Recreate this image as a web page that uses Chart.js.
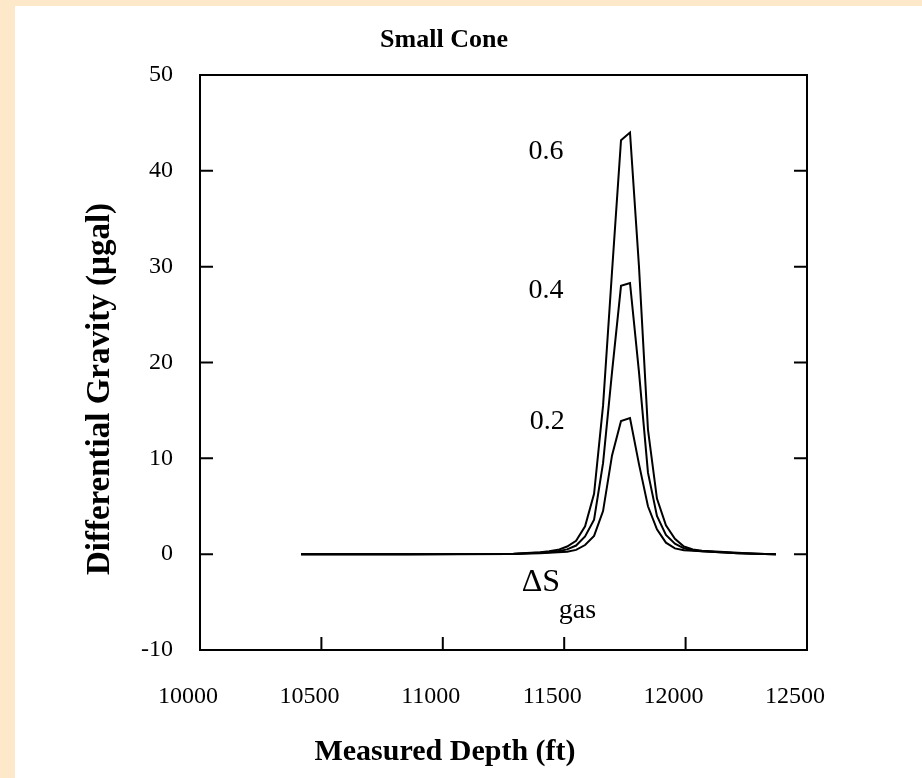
<!DOCTYPE html>
<html>
<head>
<meta charset="utf-8">
<script src="https://cdn.jsdelivr.net/npm/chart.js@4"></script>
<style>
  html, body { margin: 0; padding: 0; background: #fde8c9; }
  body { width: 922px; height: 778px; overflow: hidden; position: relative; }
  #wrap { position: absolute; left: 15px; top: 6px; width: 907px; height: 772px; background: #fff; }
</style>
</head>
<body>
<div id="wrap"><canvas id="chart" width="907" height="772"></canvas></div>
<script>
// measured depth (ft)
const depths = [10416, 10860, 11290, 11327, 11364, 11401, 11438, 11475, 11512, 11549, 11586, 11623,
  11660, 11697, 11734, 11771, 11808, 11845, 11882, 11919, 11956, 11993, 12030, 12067,
  12104, 12141, 12178, 12215, 12252, 12289, 12326, 12372];

// differential gravity (ugal) for each gas saturation change
const dg06 = [0, 0, 0.05, 0.1, 0.15, 0.2, 0.3, 0.45, 0.8, 1.4, 2.9, 6.3,
  15.5, 29.5, 43.2, 44.0, 30, 13, 5.8, 3.0, 1.6, 0.8, 0.5, 0.35,
  0.3, 0.25, 0.2, 0.15, 0.1, 0.05, 0.02, 0];
const dg04 = [0, 0, 0.03, 0.08, 0.12, 0.15, 0.2, 0.3, 0.5, 0.9, 1.85, 3.6,
  9.5, 19, 28.0, 28.3, 19, 8.5, 4.0, 2.0, 1.1, 0.6, 0.4, 0.3,
  0.25, 0.2, 0.15, 0.1, 0.08, 0.04, 0.02, 0];
const dg02 = [0, 0, 0.02, 0.05, 0.08, 0.1, 0.15, 0.2, 0.25, 0.45, 0.95, 1.9,
  4.5, 10.3, 13.9, 14.2, 9.4, 5.0, 2.6, 1.2, 0.6, 0.4, 0.35, 0.3,
  0.25, 0.2, 0.15, 0.1, 0.08, 0.04, 0.02, 0];

// curve labels: text, depth, value
const curveLabels = ["0.6", "0.4", "0.2"];
const labelDepth = [11425, 11425, 11430];
const labelValue = [42, 27.5, 13.8];

const serif = '"Liberation Serif", "Times New Roman", serif';

function pts(vals) {
  return depths.map((d, i) => ({ x: d, y: vals[i] }));
}

const framePlugin = {
  id: "frame",
  afterDatasetsDraw(chart) {
    const { ctx, chartArea: a, scales: { x, y } } = chart;
    ctx.save();
    ctx.strokeStyle = "#000";
    ctx.lineWidth = 2;
    ctx.strokeRect(a.left, a.top, a.right - a.left, a.bottom - a.top);
    ctx.beginPath();
    y.ticks.forEach(t => {
      const py = y.getPixelForValue(t.value);
      ctx.moveTo(a.left, py); ctx.lineTo(a.left + 13, py);
      ctx.moveTo(a.right, py); ctx.lineTo(a.right - 13, py);
    });
    x.ticks.forEach(t => {
      const px = x.getPixelForValue(t.value);
      ctx.moveTo(px, a.bottom); ctx.lineTo(px, a.bottom - 13);
    });
    ctx.stroke();

    ctx.fillStyle = "#000";
    ctx.textAlign = "center";
    ctx.textBaseline = "middle";

    // titles
    ctx.font = "bold 26px " + serif;
    ctx.fillText("Small Cone", 429, 34);
    ctx.font = "bold 30px " + serif;
    ctx.fillText("Measured Depth (ft)", 430, 746);
    ctx.save();
    ctx.translate(85, 383);
    ctx.rotate(-Math.PI / 2);
    ctx.font = "bold 33px " + serif;
    ctx.fillText("Differential Gravity (\u00b5gal)", 0, 0);
    ctx.restore();

    // curve labels
    ctx.font = "28px " + serif;
    curveLabels.forEach((txt, i) => {
      ctx.fillText(txt, x.getPixelForValue(labelDepth[i]), y.getPixelForValue(labelValue[i]));
    });

    // delta S gas
    const sx = x.getPixelForValue(11325);
    const sy = y.getPixelForValue(-3.0);
    ctx.textAlign = "left";
    ctx.font = "32px " + serif;
    ctx.fillText("\u0394S", sx, sy);
    ctx.font = "28px " + serif;
    ctx.fillText("gas", sx + 37, sy + 28);
    ctx.restore();
  }
};

new Chart(document.getElementById("chart"), {
  type: "line",
  data: {
    datasets: [
      { label: "0.6", data: pts(dg06) },
      { label: "0.4", data: pts(dg04) },
      { label: "0.2", data: pts(dg02) }
    ].map(d => Object.assign(d, {
      borderColor: "#000",
      borderWidth: 2,
      pointRadius: 0,
      tension: 0,
      fill: false
    }))
  },
  options: {
    responsive: false,
    animation: false,
    layout: { padding: { left: 0, top: 69, right: 115, bottom: 0 } },
    plugins: { legend: { display: false }, tooltip: { enabled: false } },
    scales: {
      x: {
        type: "linear",
        min: 10000,
        max: 12500,
        afterFit: s => { s.height = 128; },
        grid: { display: false, drawTicks: false },
        border: { display: false },
        ticks: {
          stepSize: 500,
          autoSkip: false,
          maxRotation: 0,
          padding: 32,
          labelOffset: -12,
          color: "#000",
          font: { family: serif, size: 24 },
          callback: v => String(v)
        }
      },
      y: {
        min: -10,
        max: 50,
        afterFit: s => { s.width = 185; },
        grid: { display: false, drawTicks: false },
        border: { display: false },
        ticks: {
          stepSize: 10,
          padding: 27,
          color: "#000",
          font: { family: serif, size: 24 }
        }
      }
    }
  },
  plugins: [framePlugin]
});
</script>
</body>
</html>
